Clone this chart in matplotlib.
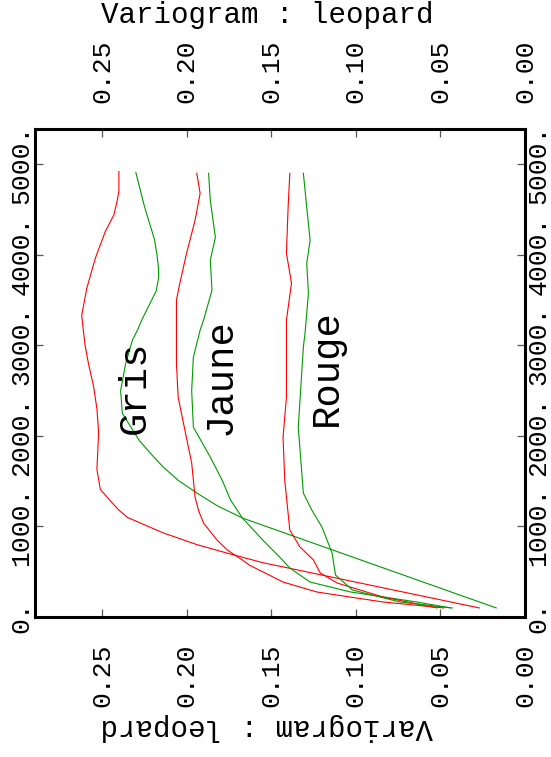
import matplotlib.pyplot as plt

plt.rcParams['font.family'] = ['Liberation Mono', 'DejaVu Sans']

# distance (lag) and variogram value for each curve
gris_red_d = [100, 600, 700, 800, 930, 1100, 1180, 1260, 1410, 1630, 2040, 2300, 2550, 2800, 3000, 3330, 3630, 3960, 4260, 4440, 4600, 4710, 4920]
gris_red_v = [0.027, 0.155, 0.175, 0.194, 0.214, 0.235, 0.240, 0.244, 0.251, 0.253, 0.252, 0.253, 0.255, 0.258, 0.260, 0.262, 0.259, 0.254, 0.248, 0.243, 0.241, 0.240, 0.240]

gris_green_d = [100, 1093, 1230, 1370, 1510, 1660, 1800, 1950, 2100, 2250, 2500, 2800, 3060, 3170, 3300, 3450, 3600, 3750, 3870, 4000, 4170, 4540, 4910]
gris_green_v = [0.017, 0.167, 0.182, 0.194, 0.205, 0.214, 0.221, 0.228, 0.233, 0.238, 0.239, 0.236, 0.232, 0.229, 0.226, 0.222, 0.218, 0.2165, 0.2167, 0.2175, 0.219, 0.225, 0.230]

jaune_red_d = [100, 166, 276, 386, 574, 629, 740, 850, 1038, 1180, 1325, 1700, 2064, 2428, 2803, 3057, 3499, 3687, 4018, 4382, 4680, 4901]
jaune_red_v = [0.048, 0.084, 0.123, 0.143, 0.163, 0.167, 0.176, 0.182, 0.190, 0.193, 0.195, 0.197, 0.201, 0.205, 0.206, 0.206, 0.206, 0.204, 0.200, 0.195, 0.192, 0.194]

jaune_green_d = [100, 166, 276, 386, 541, 662, 850, 1093, 1291, 1512, 1766, 2097, 2500, 2870, 3168, 3278, 3609, 3940, 4194, 4603, 4901]
jaune_green_v = [0.044, 0.064, 0.103, 0.127, 0.139, 0.145, 0.155, 0.167, 0.174, 0.179, 0.186, 0.196, 0.197, 0.196, 0.192, 0.190, 0.185, 0.186, 0.183, 0.186, 0.187]

rouge_red_d = [100, 221, 375, 486, 629, 773, 960, 1512, 1987, 2428, 3168, 3278, 3687, 4018, 4525, 4901]
rouge_red_v = [0.052, 0.084, 0.111, 0.121, 0.125, 0.133, 0.139, 0.142, 0.143, 0.141, 0.141, 0.141, 0.138, 0.141, 0.140, 0.139]

rouge_green_d = [100, 166, 298, 464, 706, 993, 1181, 1369, 2097, 2980, 3135, 3576, 3907, 4161, 4525, 4901]
rouge_green_v = [0.043, 0.074, 0.102, 0.112, 0.114, 0.120, 0.126, 0.131, 0.134, 0.131, 0.130, 0.128, 0.129, 0.127, 0.129, 0.131]

curve_names = ['Gris', 'Jaune', 'Rouge']
name_pos = [(0.2305, 2540), (0.1800, 2660), (0.1170, 2760)]

dist_ticks = [0, 1000, 2000, 3000, 4000, 5000]
dist_labels = ['0.', '1000.', '2000.', '3000.', '4000.', '5000.']
vario_ticks = [0.0, 0.05, 0.10, 0.15, 0.20, 0.25]
vario_labels = ['0.00', '0.05', '0.10', '0.15', '0.20', '0.25']

RED = '#ff0000'
GREEN = '#009a00'

fig = plt.figure(figsize=(5.51, 7.57), dpi=100)
ax = fig.add_axes([35 / 551, 1 - 617 / 757, 490 / 551, 488 / 757])

# the whole plot is turned a quarter turn: variogram runs right->left, distance upward
ax.plot(gris_red_v, gris_red_d, color=RED, lw=0.8)
ax.plot(gris_green_v, gris_green_d, color=GREEN, lw=0.8)
ax.plot(jaune_red_v, jaune_red_d, color=RED, lw=0.8)
ax.plot(jaune_green_v, jaune_green_d, color=GREEN, lw=0.8)
ax.plot(rouge_red_v, rouge_red_d, color=RED, lw=0.8)
ax.plot(rouge_green_v, rouge_green_d, color=GREEN, lw=0.8)

for name, (v, d) in zip(curve_names, name_pos):
    ax.text(v, d, name, fontsize=28, rotation=90, ha='center', va='center')

ax.set_xlim(0.2896, 0.0)
ax.set_ylim(0, 5390)

ax.set_xticks(vario_ticks, vario_labels)
ax.set_yticks(dist_ticks, dist_labels)

ax.tick_params(axis='both', direction='in', length=5.8, width=0.9, color='#555555',
               labelsize=19, labelrotation=90)
ax.tick_params(axis='x', top=True, bottom=True, labeltop=True, labelbottom=True, pad=19)
ax.tick_params(axis='y', left=True, right=True, labelleft=True, labelright=True, pad=1)
for tick in ax.yaxis.get_major_ticks():
    tick.label1.set_va('center')
    tick.label2.set_va('center')

for s in ax.spines.values():
    s.set_linewidth(2.2)

fig.text(267 / 551, 1 - 23 / 757, 'Variogram : leopard', fontsize=21,
         ha='center', va='baseline')
fig.text(267 / 551, 1 - 727 / 757, 'Variogram : leopard', fontsize=21,
         ha='center', va='center', rotation=180)

fig.savefig('out.png', dpi=100)
